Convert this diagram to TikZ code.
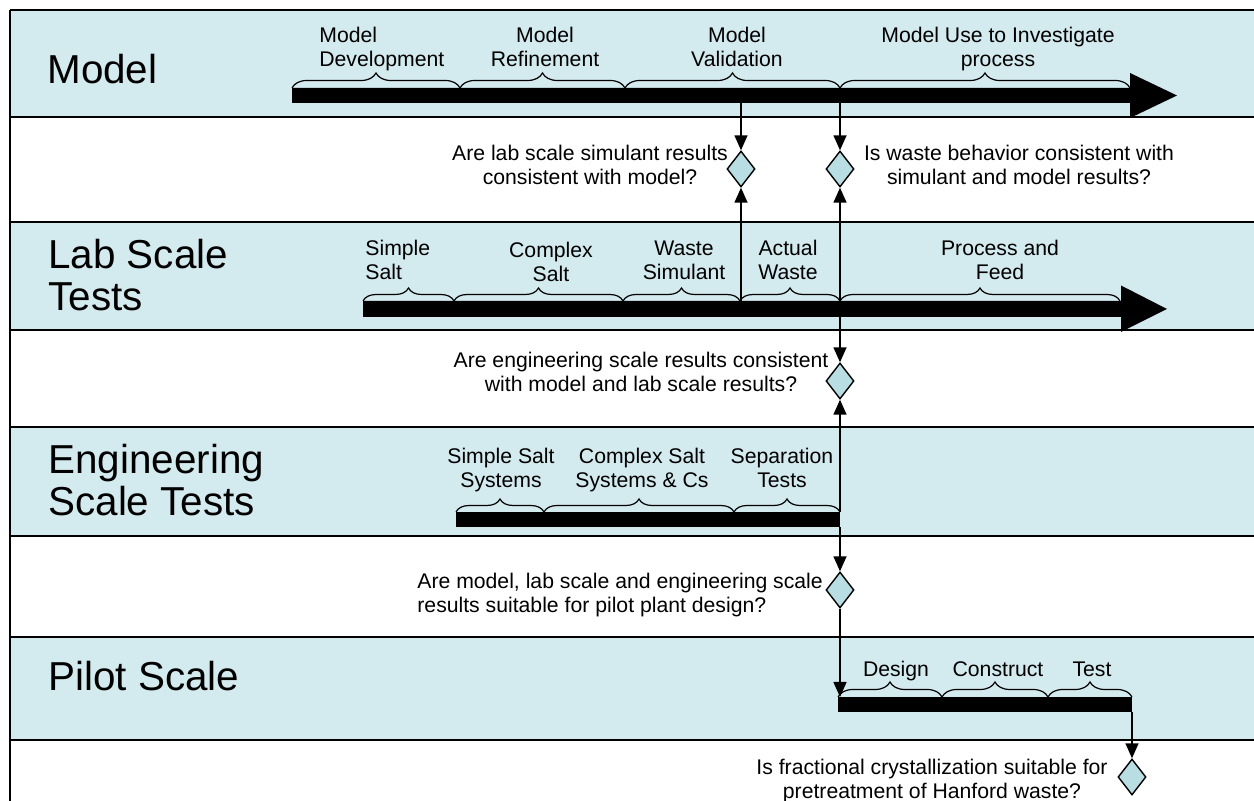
\documentclass[tikz,border=0pt]{standalone}
\usepackage{fontspec}
\setmainfont{Liberation Sans}
\usetikzlibrary{arrows.meta,shapes.geometric,decorations.pathreplacing}
\definecolor{bandblue}{RGB}{211,234,238}
\definecolor{checkfill}{RGB}{184,222,228}

\begin{document}
\begin{tikzpicture}[x=0.5pt,y=-0.5pt,
		band/.style={fill=bandblue},
		rule/.style={line width=1pt},
		bar/.style={fill=black},
		brc/.style={decorate,decoration={brace,amplitude=#1},line width=0.6pt},
		brc/.default=6.5pt,
		lbl/.style={font=\fontsize{10.6}{12.2}\selectfont,align=center,inner sep=0pt,anchor=south,execute at end node=\strut},
		ttl/.style={font=\fontsize{20.2}{21}\selectfont,align=left,inner sep=0pt,execute at end node=\strut},
		check/.style={diamond,draw,line width=0.7pt,fill=checkfill,minimum width=14pt,minimum height=18pt,inner sep=0pt},
		flow/.style={line width=0.75pt,-{Triangle[length=7.5pt,width=6.5pt]}}
	]
	\useasboundingbox (0,0) rectangle (1254,801);

	% bands
	\foreach \t/\b in {10/117,222/330,427/536,637/740}
		\fill[band] (10,\t) rectangle (1254,\b);
	\foreach \y in {10,117,222,330,427,536,637,740}
		\draw[rule] (10,\y) -- (1254,\y);
	\draw[rule] (10,10) -- (10,801);

	\node[ttl,anchor=base west] (tmodel) at (47,84) {Model};
	\node[ttl,anchor=south west] (tlab) at (48,323.6) {Lab Scale\\Tests};
	\node[ttl,anchor=south west] (teng) at (48,528.6) {Engineering\\Scale Tests};
	\node[ttl,anchor=base west] (tpilot) at (48,691) {Pilot Scale};

	% bars
	\fill[bar] (292,88) -- (1130,88) -- (1130,73) -- (1177,95.5) -- (1130,118) -- (1130,103) -- (292,103) -- cycle;
	\fill[bar] (363,301) -- (1121,301) -- (1121,285.5) -- (1167,309) -- (1121,332) -- (1121,317) -- (363,317) -- cycle;
	\fill[bar] (456,512) rectangle (840,527);
	\fill[bar] (838,697) rectangle (1132,712);
	\coordinate (modelbar) at (0,103);
	\coordinate (labtop) at (0,301);
	\coordinate (labbot) at (0,317);
	\coordinate (engtop) at (0,512);
	\coordinate (engbot) at (0,527);
	\coordinate (pilotstart) at (840,697);
	\coordinate (pilotend) at (1132,712);

	% braces
	\foreach \a/\b in {292/460,460/625,625/840,840/1130}
		\draw[brc=7.5pt] (\a,88) -- (\b,88);
	\foreach \a/\b in {363/454,454/623,623/740,740/840,840/1120}
		\draw[brc] (\a,301) -- (\b,301);
	\foreach \a/\b in {456/544,544/734,734/840}
		\draw[brc] (\a,512) -- (\b,512);
	\foreach \a/\b in {838/942,942/1048,1048/1132}
		\draw[brc=7.5pt] (\a,697) -- (\b,697);

	\node[lbl,align=left,anchor=south west] (mdev) at (319,74.3) {Model\\Development};
	\node[lbl] (mref) at (545,74.3) {Model\\Refinement};
	\node[lbl] (mval) at (737,74.3) {Model\\Validation};
	\node[lbl] (muse) at (998,74.3) {Model Use to Investigate\\process};

	\node[lbl,align=left,anchor=south west] (lsimple) at (365,287.3) {Simple\\Salt};
	\node[lbl] (lcomplex) at (551,289.3) {Complex\\Salt};
	\node[lbl] (lsim) at (684,287.3) {Waste\\Simulant};
	\node[lbl] (lactual) at (788,287.3) {Actual\\Waste};
	\node[lbl] (lfeed) at (1000,287.3) {Process and\\Feed};

	\node[lbl] (esimple) at (501,495.3) {Simple Salt\\Systems};
	\node[lbl] (ecomplex) at (642,495.3) {Complex Salt\\Systems \& Cs};
	\node[lbl] (esep) at (782,495.3) {Separation\\Tests};

	\node[lbl] (pdesign) at (896,684.3) {Design};
	\node[lbl] (pbuild) at (998,684.3) {Construct};
	\node[lbl] (ptest) at (1092,684.3) {Test};

	% decision points
	\node[check] (q1) at (741,169) {};
	\node[check] (q2) at (840,169) {};
	\node[check] (q3) at (840,381) {};
	\node[check] (q4) at (840,590) {};
	\node[check] (q5) at (1132,777) {};

	\node[lbl] (q1txt) at (590,192.3) {Are lab scale simulant results\\consistent with model?};
	\node[lbl] (q2txt) at (1019,192.3) {Is waste behavior consistent with\\simulant and model results?};
	\node[lbl] (q3txt) at (641,399.3) {Are engineering scale results consistent\\with model and lab scale results?};
	\node[lbl,align=left,anchor=south west] (q4txt) at (417,620.3) {Are model, lab scale and engineering scale\\results suitable for pilot plant design?};
	\node[lbl] (q5txt) at (932,806.3) {Is fractional crystallization suitable for\\pretreatment of Hanford waste?};

	\draw[flow] (q1 |- modelbar) -- (q1.north);
	\draw[flow] (q1 |- labtop) -- (q1.south);
	\draw[flow] (q2 |- modelbar) -- (q2.north);
	\draw[flow] (q2 |- labtop) -- (q2.south);
	\draw[flow] (q3 |- labbot) -- (q3.north);
	\draw[flow] (q3 |- engtop) -- (q3.south);
	\draw[flow] (q4 |- engbot) -- (q4.north);
	\draw[flow] (q4.south) -- (pilotstart);
	\draw[flow] (pilotend) -- (q5.north);
\end{tikzpicture}
\end{document}
